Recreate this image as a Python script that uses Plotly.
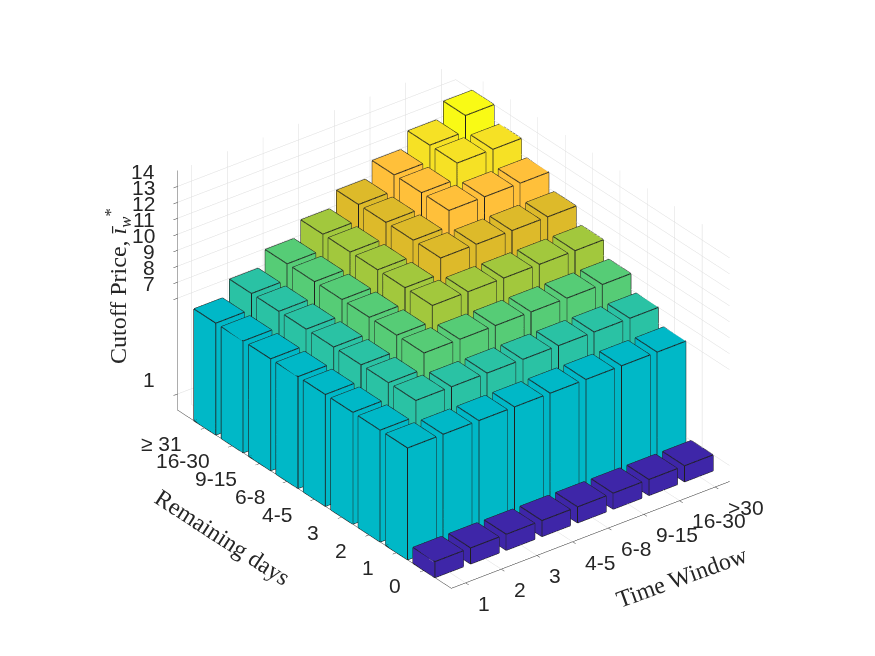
import plotly.graph_objects as go

# Category labels
time_window = ["1", "2", "3", "4-5", "6-8", "9-15", "16-30", ">30"]
remaining_days = ["0", "1", "2", "3", "4-5", "6-8", "9-15", "16-30", "≥ 31"]

# Cutoff price per remaining-days row (rows) and time-window column (cols)
cutoff = [
    [1, 1, 1, 1, 1, 1, 1, 1],
    [7, 7, 7, 7, 7, 7, 7, 7],
    [7, 8, 8, 8, 8, 8, 8, 8],
    [7, 8, 9, 9, 9, 9, 9, 9],
    [7, 8, 9, 10, 10, 10, 10, 10],
    [7, 8, 9, 10, 11, 11, 11, 11],
    [7, 8, 9, 10, 11, 12, 12, 12],
    [7, 8, 9, 10, 11, 12, 13, 13],
    [7, 8, 9, 10, 11, 12, 13, 14],
]

z_ticks = [1, 7, 8, 9, 10, 11, 12, 13, 14]

# parula-like colorscale over the cutoff range 1..14
parula = [
    [0.000, "rgb(62,38,168)"],
    [0.150, "rgb(70,100,245)"],
    [0.300, "rgb(30,150,225)"],
    [0.462, "rgb(0,184,199)"],
    [0.538, "rgb(41,194,165)"],
    [0.615, "rgb(86,204,118)"],
    [0.692, "rgb(160,201,62)"],
    [0.769, "rgb(220,186,42)"],
    [0.846, "rgb(255,192,58)"],
    [0.923, "rgb(246,224,38)"],
    [1.000, "rgb(249,250,21)"],
]

W = 0.4  # half bar width (bar3 default width 0.8)
X_RANGE = [0.6, 8.4]
Y_RANGE = [0, 10]
Z_RANGE = [0, 15]

xs, ys, zs, ii, jj, kk, inten = [], [], [], [], [], [], []
ex, ey, ez = [], [], []

for r, row in enumerate(cutoff):
    for c, val in enumerate(row):
        x0, x1 = c + 1 - W, c + 1 + W
        y0, y1 = r + 1 - W, r + 1 + W
        z0, z1 = 0, val
        n = len(xs)
        corners = [
            (x0, y0, z0), (x1, y0, z0), (x1, y1, z0), (x0, y1, z0),
            (x0, y0, z1), (x1, y0, z1), (x1, y1, z1), (x0, y1, z1),
        ]
        for p in corners:
            xs.append(p[0]); ys.append(p[1]); zs.append(p[2]); inten.append(val)
        faces = [
            (0, 1, 2), (0, 2, 3), (4, 5, 6), (4, 6, 7),
            (0, 1, 5), (0, 5, 4), (1, 2, 6), (1, 6, 5),
            (2, 3, 7), (2, 7, 6), (3, 0, 4), (3, 4, 7),
        ]
        for a, b, d in faces:
            ii.append(n + a); jj.append(n + b); kk.append(n + d)
        edges = [(0, 1), (1, 2), (2, 3), (3, 0), (4, 5), (5, 6), (6, 7), (7, 4),
                 (0, 4), (1, 5), (2, 6), (3, 7)]
        for a, b in edges:
            for p in (corners[a], corners[b]):
                ex.append(p[0]); ey.append(p[1]); ez.append(p[2])
            ex.append(None); ey.append(None); ez.append(None)

bars = go.Mesh3d(
    x=xs, y=ys, z=zs, i=ii, j=jj, k=kk,
    intensity=inten, colorscale=parula, cmin=1, cmax=14,
    showscale=False, flatshading=True, hoverinfo="skip",
    lighting=dict(ambient=1, diffuse=0, specular=0, roughness=1, fresnel=0),
)
edges = go.Scatter3d(
    x=ex, y=ey, z=ez, mode="lines",
    line=dict(color="#1f1f1f", width=2),
    hoverinfo="skip", showlegend=False,
)

fig = go.Figure([bars, edges])

tick_font = dict(family="Liberation Sans, Arial, sans-serif", size=21, color="#262626")
axis_common = dict(
    showbackground=False, gridcolor="#dcdcdc", gridwidth=1,
    showline=True, linecolor="#262626", linewidth=1,
    ticks="outside", ticklen=5, tickcolor="#262626",
    showticklabels=False, showspikes=False, zeroline=False,
    title=dict(text=""),
)

# tick labels placed at the axis positions in data coordinates
labels = []
for t in z_ticks:
    labels.append(dict(x=X_RANGE[0], y=Y_RANGE[1], z=t, text=str(t),
                       xanchor="right", yanchor="middle", xshift=-20, yshift=15))
for k, lab in enumerate(remaining_days):
    labels.append(dict(x=X_RANGE[0], y=k + 1, z=0, text=lab,
                       xanchor="right", yanchor="middle", xshift=-20, yshift=-15))
for k, lab in enumerate(time_window):
    labels.append(dict(x=k + 1, y=Y_RANGE[0], z=0, text=lab,
                       xanchor="left", yanchor="middle", xshift=11, yshift=-20))
for lab in labels:
    lab.update(showarrow=False, font=tick_font)

fig.update_layout(
    width=875, height=656,
    paper_bgcolor="white",
    margin=dict(l=0, r=0, t=0, b=0),
    showlegend=False,
    scene=dict(
        domain=dict(x=[0.0385, 0.9785], y=[0.03, 1.0]),
        xaxis=dict(axis_common, range=X_RANGE,
                   tickvals=list(range(1, len(time_window) + 1))),
        yaxis=dict(axis_common, range=Y_RANGE,
                   tickvals=list(range(1, len(remaining_days) + 1))),
        zaxis=dict(axis_common, range=Z_RANGE, tickvals=z_ticks),
        aspectmode="manual",
        aspectratio=dict(x=1.103, y=1.414, z=0.870),
        camera=dict(
            eye=dict(x=-0.844, y=-1.099, z=0.8),
            projection=dict(type="orthographic"),
        ),
        annotations=labels,
    ),
)

title_font = dict(family="Liberation Serif, Times New Roman, serif", size=24, color="#262626")
fig.add_annotation(
    text="Cutoff Price, <i>ī</i><sub><i>w</i></sub><sup>*</sup>",
    x=110 / 875, y=1 - 278 / 656, xref="paper", yref="paper",
    xanchor="center", yanchor="middle",
    textangle=-90, showarrow=False, font=title_font,
)
fig.add_annotation(
    text="Remaining days",
    x=214 / 875, y=1 - 529 / 656, xref="paper", yref="paper",
    xanchor="center", yanchor="middle",
    textangle=33, showarrow=False, font=title_font,
)
fig.add_annotation(
    text="Time Window",
    x=674 / 875, y=1 - 569 / 656, xref="paper", yref="paper",
    xanchor="center", yanchor="middle",
    textangle=-20, showarrow=False, font=title_font,
)

fig.write_html("out.html")
